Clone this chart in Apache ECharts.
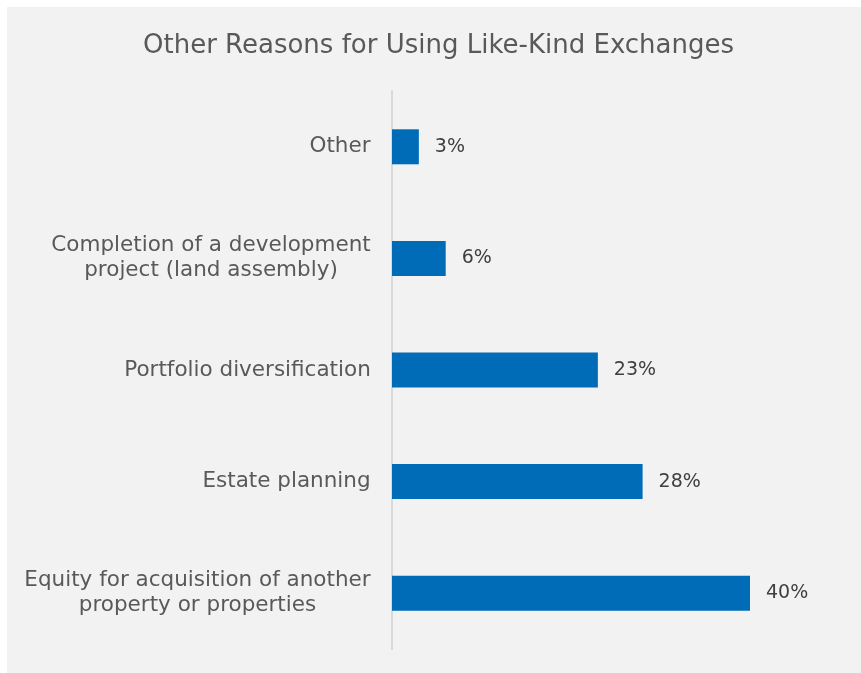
<!DOCTYPE html>
<html>
<head>
<meta charset="utf-8">
<script src="https://cdn.jsdelivr.net/npm/echarts@6/dist/echarts.min.js"></script>
<style>
  html, body { margin: 0; padding: 0; background: #f2f2f2; width: 100%; height: 100%; overflow: hidden; }
  .edge { position: absolute; background: #ffffff; z-index: 2; }
  #edge-top { left: 0; top: 0; width: 100%; height: 7px; }
  #edge-left { left: 0; top: 0; width: 7px; height: 100%; }
  #chart { position: absolute; left: 7px; top: 7px; width: 854px; height: 666px; }
</style>
</head>
<body>
<div class="edge" id="edge-top"></div>
<div class="edge" id="edge-left"></div>
<div id="chart"></div>
<script>
// Survey responses, listed bottom-to-top as drawn on the category axis
const categories = [
  'Equity for acquisition of another\nproperty or properties',
  'Estate planning',
  'Portfolio diversification',
  'Completion of a development\nproject (land assembly)',
  'Other'
];
const shares = [40, 28, 23, 6, 3];

const FONT = 'DejaVu Sans';
const LABEL_SIZE = 21.5;

// Multi-line labels have each line centred within the block; measure the
// widest line so the rich-text boxes share one width.
const ctx = document.createElement('canvas').getContext('2d');
ctx.font = LABEL_SIZE + 'px "' + FONT + '"';
const rich = {};
categories.forEach(function (c, i) {
  const w = Math.max.apply(null, c.split('\n').map(function (s) { return ctx.measureText(s).width; }));
  rich['l' + i] = { width: Math.ceil(w), align: 'center', fontFamily: FONT, fontSize: LABEL_SIZE, color: '#595959', lineHeight: 25 };
});

const chart = echarts.init(document.getElementById('chart'));
chart.setOption({
  backgroundColor: '#f2f2f2',
  animation: false,
  title: {
    text: 'Other Reasons for Using Like-Kind Exchanges',
    left: 131,
    top: 21,
    textStyle: { fontFamily: FONT, fontSize: 26, fontWeight: 'normal', color: '#595959' }
  },
  grid: { left: 385, top: 84, width: 358, height: 558, containLabel: false },
  xAxis: {
    type: 'value',
    min: 0,
    max: 40,
    show: false
  },
  yAxis: {
    type: 'category',
    data: categories,
    axisLine: { lineStyle: { color: '#d9d9d9', width: 2 } },
    axisTick: { show: false },
    axisLabel: {
      margin: 21,
      formatter: function (value, idx) {
        return value.split('\n').map(function (s) { return '{l' + idx + '|' + s + '}'; }).join('\n');
      },
      rich: rich
    }
  },
  series: [{
    type: 'bar',
    data: shares,
    barWidth: 35,
    itemStyle: { color: '#006bb6' },
    label: {
      show: true,
      position: 'right',
      distance: 16,
      formatter: '{c}%',
      fontFamily: FONT,
      fontSize: 19,
      color: '#3f3f3f'
    }
  }]
});
</script>
</body>
</html>
